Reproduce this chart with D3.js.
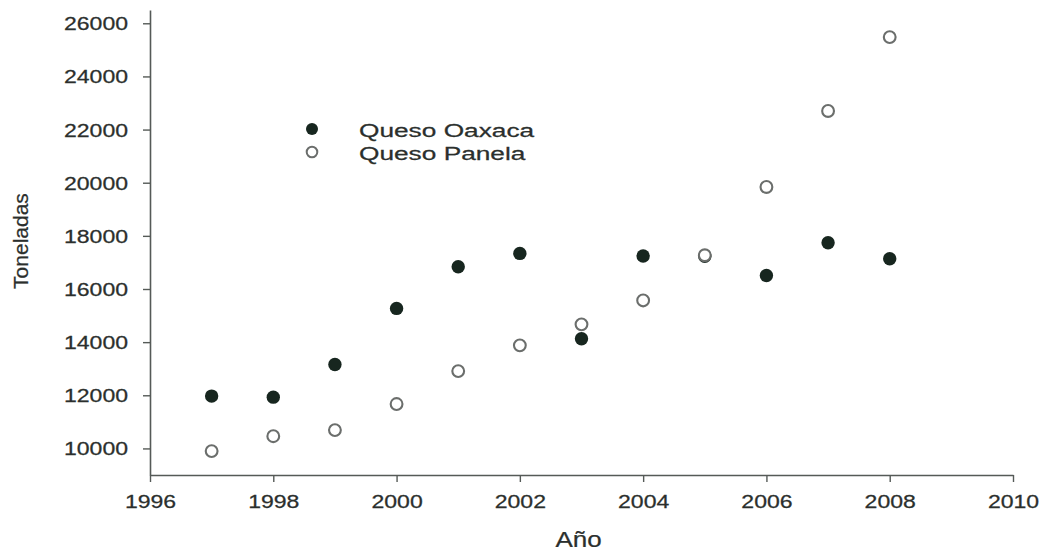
<!DOCTYPE html>
<html>
<head>
<meta charset="utf-8">
<script src="https://cdn.jsdelivr.net/npm/d3@7"></script>
<style>
  html, body { margin: 0; padding: 0; background: #fff; }
  svg { display: block; font-family: "Liberation Sans", Arial, sans-serif; }
  svg text { stroke: #2b2f2d; stroke-width: 0.25px; }
</style>
</head>
<body>
<svg id="chart" width="1042" height="551"></svg>
<script>
// Annual production (tonnes) of two Mexican cheeses
const years = [1997, 1998, 1999, 2000, 2001, 2002, 2003, 2004, 2005, 2006, 2007, 2008];
const oaxaca = [11970, 11930, 13160, 15270, 16840, 17340, 14130, 17240, 17230, 16510, 17740, 17140];
const panela = [9900, 10460, 10690, 11670, 12910, 13880, 14670, 15570, 17270, 19840, 22700, 25480];
const xTicks = [1996, 1998, 2000, 2002, 2004, 2006, 2008, 2010];
const yTicks = [10000, 12000, 14000, 16000, 18000, 20000, 22000, 24000, 26000];
const seriesNames = ["Queso Oaxaca", "Queso Panela"];

const svg = d3.select("#chart");
const plotLeft = 150, plotRight = 1013, plotTop = 10, plotBottom = 475;
const textColor = "#2b2f2d";
const axisColor = "#555a57";
const textStretch = 1.28;

const x = d3.scaleLinear().domain([1996, 2010]).range([plotLeft, plotRight]);
const y = d3.scaleLinear().domain([9000, 26500]).range([plotBottom, plotTop]);

// X axis
const gx = svg.append("g")
  .attr("transform", `translate(0,${plotBottom})`)
  .call(d3.axisBottom(x).tickValues(xTicks).tickFormat(d3.format("d")).tickSize(7).tickSizeOuter(0));
gx.select(".domain").attr("stroke", axisColor).attr("stroke-width", 1.6);
gx.selectAll(".tick line").attr("stroke", axisColor).attr("stroke-width", 1.4);
gx.selectAll(".tick text")
  .attr("y", 0).attr("dy", 0)
  .attr("transform", `translate(0,33) scale(${textStretch},1)`)
  .attr("fill", textColor)
  .style("font-size", "18px")
  .style("font-family", "'Liberation Sans', Arial, sans-serif");

// Y axis
const gy = svg.append("g")
  .attr("transform", `translate(${plotLeft},0)`)
  .call(d3.axisLeft(y).tickValues(yTicks).tickFormat(d3.format("d")).tickSize(7).tickSizeOuter(0));
gy.select(".domain").attr("stroke", axisColor).attr("stroke-width", 1.6);
gy.selectAll(".tick line").attr("stroke", axisColor).attr("stroke-width", 1.4);
gy.selectAll(".tick text")
  .attr("x", 0).attr("dy", "0.36em")
  .attr("transform", `translate(-22,0) scale(${textStretch},1)`)
  .attr("fill", textColor)
  .style("font-size", "18px")
  .style("font-family", "'Liberation Sans', Arial, sans-serif");

// Axis titles
svg.append("text")
  .attr("transform", `translate(${(plotLeft + plotRight) / 2 - 3},547) scale(1.18,1)`)
  .attr("text-anchor", "middle")
  .attr("fill", textColor)
  .style("font-size", "22px")
  .text("Año");

svg.append("text")
  .attr("transform", `translate(28,241) rotate(-90)`)
  .attr("text-anchor", "middle")
  .attr("fill", textColor)
  .style("font-size", "21px")
  .text("Toneladas");

// Markers: filled for Oaxaca, open for Panela
const filledColor = "#17261f";
const openStroke = "#6b6e6c";

svg.append("g").selectAll("circle")
  .data(years.map((yr, i) => ({ yr, v: oaxaca[i] })))
  .join("circle")
  .attr("cx", d => x(d.yr))
  .attr("cy", d => y(d.v))
  .attr("r", 6.7)
  .attr("fill", filledColor);

svg.append("g").selectAll("circle")
  .data(years.map((yr, i) => ({ yr, v: panela[i] })))
  .join("circle")
  .attr("cx", d => x(d.yr))
  .attr("cy", d => y(d.v))
  .attr("r", 5.9)
  .attr("fill", "#fff")
  .attr("stroke", openStroke)
  .attr("stroke-width", 2.1);

// Legend
const legend = svg.append("g");
const legendRows = [129, 152];
seriesNames.forEach((name, i) => {
  const ly = legendRows[i];
  if (i === 0) {
    legend.append("circle").attr("cx", 312).attr("cy", ly).attr("r", 6).attr("fill", filledColor);
  } else {
    legend.append("circle").attr("cx", 312).attr("cy", ly).attr("r", 5.3)
      .attr("fill", "#fff").attr("stroke", openStroke).attr("stroke-width", 2);
  }
  legend.append("text")
    .attr("transform", `translate(359,${ly + 7.5}) scale(1.42,1)`)
    .attr("fill", textColor)
    .style("font-size", "18.5px")
    .text(name);
});
</script>
</body>
</html>
